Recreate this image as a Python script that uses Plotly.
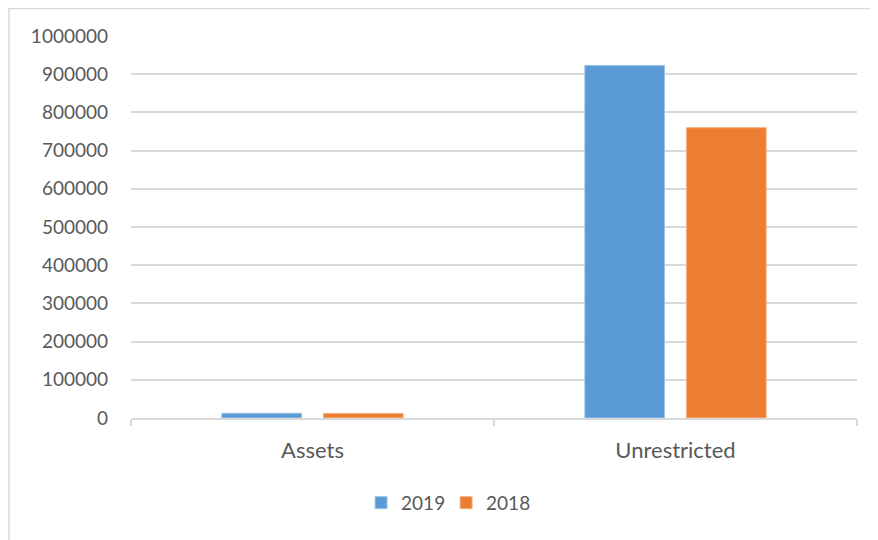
import plotly.graph_objects as go

categories = ["Assets", "Unrestricted"]
values_2019 = [12500, 923000]
values_2018 = [12000, 760000]
y_ticks = [0, 100000, 200000, 300000, 400000, 500000, 600000, 700000, 800000, 900000, 1000000]

font_name = "Lato, Open Sans, sans-serif"
text_grey = "#595959"
line_grey = "#d9d9d9"

fig = go.Figure()
fig.add_trace(go.Bar(x=categories, y=values_2019, name="2019",
                     marker=dict(color="#5b9bd5", line=dict(width=1, color="#9dc3e6"))))
fig.add_trace(go.Bar(x=categories, y=values_2018, name="2018",
                     marker=dict(color="#ed7d31", line=dict(width=1, color="#f4b183"))))

# page body adds 8px margin, so the figure is 8px smaller
fig.update_layout(
    width=870, height=532,
    margin=dict(l=123, r=21, t=28, b=122),
    paper_bgcolor="white", plot_bgcolor="white",
    barmode="group", bargap=0.44, bargroupgap=0.216,
    font=dict(family=font_name, size=19, color=text_grey),
    showlegend=True,
    legend=dict(orientation="h", x=0.434, xanchor="center", y=-0.222, yanchor="middle",
                font=dict(size=19, color=text_grey), itemwidth=30,
                entrywidth=40, entrywidthmode="pixels"),
    shapes=[dict(type="rect", xref="paper", yref="paper",
                 x0=-0.168, x1=1.2, y0=-0.6, y1=1.072,
                 line=dict(color=line_grey, width=1.5), layer="below")],
)

fig.update_xaxes(
    showline=True, linecolor=line_grey, linewidth=2,
    ticks="outside", tickson="boundaries", ticklen=6, tickcolor=line_grey, tickwidth=2,
    showgrid=False, ticklabelstandoff=12, tickfont=dict(size=22, color=text_grey),
)
fig.update_yaxes(
    range=[0, 1000000], tickvals=y_ticks, ticktext=[str(v) for v in y_ticks],
    showgrid=True, gridcolor=line_grey, gridwidth=1.5, zeroline=False,
    showline=False, ticks="", ticklabelstandoff=22,
    tickfont=dict(size=19, color=text_grey),
)

fig.write_html("out.html")
